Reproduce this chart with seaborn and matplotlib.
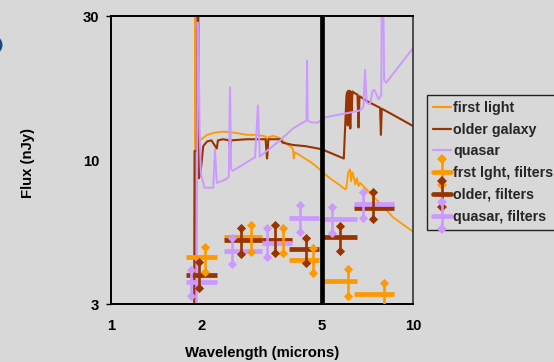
import matplotlib
matplotlib.use("Agg")
import numpy as np
import pandas as pd
import matplotlib.pyplot as plt
import seaborn as sns
from matplotlib.legend_handler import HandlerBase
from matplotlib.lines import Line2D
from matplotlib.transforms import ScaledTranslation
from matplotlib.patches import Circle

# ---------------- data ----------------
first_light_wl = [1.880, 1.896, 1.900, 1.905, 1.930, 1.970, 2.080, 2.200, 2.350, 2.570,
                  2.820, 3.000, 3.200, 3.260, 3.290, 3.320, 3.450, 3.630, 3.770, 4.000,
                  4.030, 4.060, 4.390, 4.670, 4.850, 5.030, 5.310, 5.730, 5.960, 6.020,
                  6.100, 6.190, 6.240, 6.300, 6.380, 6.440, 6.520, 6.600, 6.680, 7.200,
                  7.780, 8.590, 10.00]
first_light_flux = [2.8, 2.8, 34.0, 10.9, 11.0, 11.1, 11.6, 11.8, 11.9, 11.8,
                    11.6, 11.6, 11.5, 11.4, 9.7, 11.4, 11.5, 11.3, 10.9, 10.4,
                    9.6, 10.1, 9.6, 9.2, 8.9, 8.6, 8.2, 7.75, 7.5, 7.6,
                    8.6, 8.8, 8.0, 8.6, 8.2, 7.8, 8.2, 7.7, 7.9, 7.3,
                    6.7, 6.0, 5.35]

older_wl = [1.885, 1.891, 1.925, 1.935, 1.945, 1.955, 1.980, 2.020, 2.080, 2.150,
            2.240, 2.260, 2.350, 2.460, 2.480, 2.500, 2.820, 3.000, 3.250, 3.286,
            3.320, 3.630, 3.700, 4.000, 4.390, 4.850, 5.030, 5.900, 6.020, 6.050,
            6.080, 6.110, 6.140, 6.170, 6.200, 6.230, 6.270, 6.300, 6.400, 6.550,
            6.600, 6.650, 6.900, 7.200, 7.780, 7.830, 7.880, 8.600, 10.00]
older_flux = [2.8, 10.2, 10.2, 36.0, 36.0, 8.2, 8.6, 10.6, 11.0, 11.1,
              10.4, 11.1, 11.2, 11.1, 10.4, 11.1, 11.2, 11.2, 11.2, 9.6,
              11.2, 11.2, 10.9, 10.7, 10.6, 10.4, 10.3, 9.6, 15.8, 16.3,
              12.5, 16.5, 13.0, 16.5, 12.2, 16.3, 14.0, 16.4, 16.2, 16.0,
              12.3, 15.8, 15.4, 15.0, 14.4, 11.6, 14.3, 13.6, 12.45]

quasar_wl = [1.922, 1.935, 1.950, 1.965, 1.985, 2.040, 2.180, 2.210, 2.240, 2.390,
             2.455, 2.477, 2.500, 2.530, 3.000, 3.065, 3.110, 3.630, 4.000, 4.320,
             4.440, 4.460, 4.480, 4.630, 4.850, 5.030, 6.050, 6.680, 6.850, 6.940,
             7.020, 7.200, 7.350, 7.450, 7.700, 7.850, 7.880, 7.980, 8.020, 8.150,
             10.00]
quasar_flux = [2.8, 28.5, 25.0, 12.0, 8.5, 7.6, 7.6, 10.3, 7.9, 8.1,
               8.3, 17.0, 8.8, 8.7, 9.7, 14.7, 9.75, 11.1, 12.2, 12.8,
               13.0, 21.0, 13.0, 12.8, 12.8, 13.3, 13.8, 14.1, 14.5, 19.5,
               15.0, 14.8, 16.5, 16.6, 15.4, 16.0, 33.0, 33.0, 18.0, 17.6,
               23.2]

# broadband filter photometry: filter edges (microns)
filter_lo = [1.77, 2.37, 3.16, 3.89, 5.04, 6.38]
filter_hi = [2.24, 3.16, 3.97, 4.88, 6.53, 8.65]

fl_filt_x = [2.05, 2.90, 3.70, 4.66, 6.08, 8.02]
fl_filt_y = [4.36, 5.14, 5.00, 4.27, 3.60, 3.24]
fl_filt_lo = [3.88, 4.56, 4.50, 3.83, 3.20, 2.82]
fl_filt_hi = [4.74, 5.64, 5.52, 4.71, 3.96, 3.54]

old_filt_x = [1.96, 2.70, 3.49, 4.41, 5.74, 7.39]
old_filt_y = [3.78, 5.00, 5.00, 4.65, 5.11, 6.48]
old_filt_lo = [3.40, 4.46, 4.50, 4.16, 4.58, 5.92]
old_filt_hi = [4.21, 5.50, 5.64, 5.10, 5.61, 7.33]

qso_filt_x = [1.84, 2.52, 3.29, 4.23, 5.40, 6.85]
qso_filt_y = [3.57, 4.58, 4.87, 5.98, 5.90, 6.66]
qso_filt_lo = [3.21, 4.12, 4.38, 5.35, 5.28, 5.95]
qso_filt_hi = [3.94, 5.07, 5.50, 6.62, 6.53, 7.37]

cutoff_wavelength = 5.0

x_ticks = [1, 2, 5, 10]
x_tick_labels = ["1", "2", "5", "10"]
x_minor_ticks = [1.26, 1.58, 2.0, 2.51, 3.16, 3.98, 5.01, 6.31, 7.94]
y_ticks = [3, 10, 30]
y_tick_labels = ["3", "10", "30"]

line_labels = ["first light", "older galaxy", "quasar"]
filter_labels = ["frst lght, filters", "older, filters", "quasar, filters"]
colors = ["#FF9900", "#993300", "#CC99FF"]

# ---------------- style ----------------
BG = "#d8d8d8"
sns.set_theme(style="white")
plt.rcParams["font.family"] = ["Liberation Sans", "DejaVu Sans"]
plt.rcParams["font.weight"] = "bold"
plt.rcParams["axes.labelweight"] = "bold"
FS = 10.7
LEG_FS = 10.3

fig = plt.figure(figsize=(5.54, 3.62), dpi=100, facecolor=BG)
ax = fig.add_axes([111 / 554, 1 - 304 / 362, 302 / 554, 288 / 362], facecolor=BG)
ax.set_xscale("log")
ax.set_yscale("log")

spectra = [(first_light_wl, first_light_flux, 1.3),
           (older_wl, older_flux, 1.5),
           (quasar_wl, quasar_flux, 1.4)]
for (wl, fx, lw), lab, c in zip(spectra, line_labels, colors):
    df = pd.DataFrame({"wavelength": wl, "flux": fx})
    sns.lineplot(data=df, x="wavelength", y="flux", ax=ax, color=c, lw=lw,
                 sort=False, estimator=None, legend=False, zorder=2)

filt_sets = [(fl_filt_x, fl_filt_y, fl_filt_lo, fl_filt_hi),
             (old_filt_x, old_filt_y, old_filt_lo, old_filt_hi),
             (qso_filt_x, qso_filt_y, qso_filt_lo, qso_filt_hi)]

BAR_LW = 3.4
ERR_LW = 1.9
DIA_S = 22
for (fx, fy, flo, fhi), c in zip(filt_sets, colors):
    ax.hlines(fy, filter_lo, filter_hi, color=c, lw=BAR_LW, zorder=3)
for (fx, fy, flo, fhi), c in zip(filt_sets, colors):
    ax.vlines(fx, flo, fhi, color=c, lw=ERR_LW, zorder=4)
    dd = pd.DataFrame({"x": list(fx) + list(fx), "y": list(flo) + list(fhi)})
    sns.scatterplot(data=dd, x="x", y="y", ax=ax, marker="D", s=DIA_S, color=c,
                    linewidth=0, zorder=4, legend=False)

ax.axvline(cutoff_wavelength, color="black", lw=3.4, zorder=5)

ax.set_xlim(1, 10)
ax.set_ylim(3, 30)

ax.set_xticks(x_ticks)
ax.set_xticklabels(x_tick_labels)
ax.set_xticks(x_minor_ticks, minor=True)
ax.xaxis.set_minor_formatter(matplotlib.ticker.NullFormatter())
ax.tick_params(axis="x", which="major", length=0, pad=11, labelsize=FS, colors="black")
ax.tick_params(axis="x", which="minor", direction="in", length=3, width=1, color="black")
ax.set_yticks(y_ticks)
ax.set_yticklabels(y_tick_labels)
ax.yaxis.set_minor_locator(matplotlib.ticker.NullLocator())
ax.tick_params(axis="y", which="major", direction="out", length=3.6, width=1,
               pad=5, labelsize=FS, colors="black", left=True)
for t in ax.get_xticklabels() + ax.get_yticklabels():
    t.set_fontweight("bold")
# "10" label has no tick mark and sits a little low
tk10 = ax.yaxis.get_major_ticks()[1]
tk10.tick1line.set_visible(False)
tk10.label1.set_transform(tk10.label1.get_transform() +
                          ScaledTranslation(0, -7 / 100, fig.dpi_scale_trans))

for s in ["left", "bottom", "top"]:
    ax.spines[s].set_color("black")
    ax.spines[s].set_linewidth(1.4)
ax.spines["right"].set_color("#333333")
ax.spines["right"].set_linewidth(1.2)

ax.set_xlabel("Wavelength (microns)", fontsize=FS, fontweight="bold", color="black")
ax.set_ylabel("Flux (nJy)", fontsize=FS, fontweight="bold", color="black")
ax.xaxis.set_label_coords(0.5, -0.145)
ax.yaxis.set_label_coords(-0.252, 0.49)


class FilterHandler(HandlerBase):
    def create_artists(self, legend, orig_handle, xdescent, ydescent, width,
                       height, fontsize, trans):
        c = orig_handle.get_color()
        x0 = -xdescent
        cy = -ydescent + height / 2
        cx = x0 + width / 2
        d = 9.5
        h = Line2D([x0, x0 + width], [cy, cy], lw=BAR_LW, color=c)
        v = Line2D([cx, cx], [cy - d, cy + d], lw=ERR_LW, color=c)
        m = Line2D([cx, cx], [cy - d, cy + d], ls="", marker="D",
                   markersize=np.sqrt(DIA_S), color=c, markeredgewidth=0)
        for a in (h, v, m):
            a.set_transform(trans)
        return [h, v, m]


class FilterProxy(Line2D):
    pass


handles = [Line2D([], [], color=c, lw=1.6) for c in colors]
fhandles = [FilterProxy([], [], color=c) for c in colors]
leg = fig.legend(handles + fhandles, line_labels + filter_labels,
                 loc="upper left", bbox_to_anchor=(427 / 554, 1 - 95 / 362),
                 bbox_transform=fig.transFigure, borderaxespad=0,
                 frameon=True, fancybox=False, framealpha=1, facecolor=BG,
                 edgecolor="#222222", handlelength=1.25,
                 handletextpad=0.18, labelspacing=0.54, borderpad=0.42,
                 prop={"weight": "bold", "size": LEG_FS},
                 handler_map={FilterProxy: FilterHandler()})
leg.get_frame().set_linewidth(1.0)

# decorative edge of a slide graphic at the far left
fig.patches.append(Circle((-19 / 554, 1 - 45 / 362), 21.5 / 554, transform=fig.transFigure,
                          facecolor="#154a80", edgecolor="none"))

fig.savefig("out.png", dpi=100, facecolor=BG)
